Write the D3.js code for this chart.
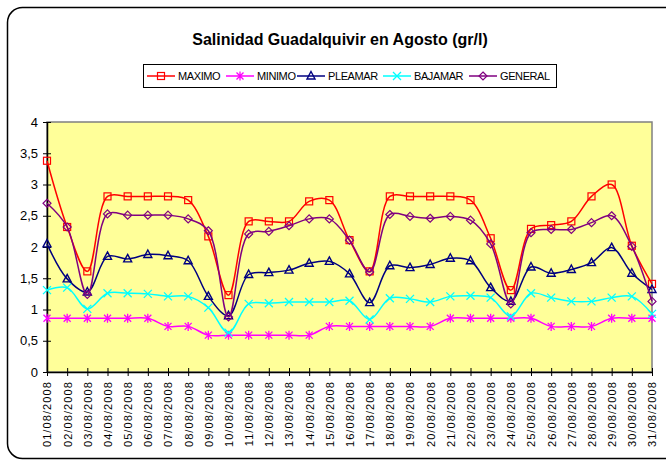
<!DOCTYPE html>
<html>
<head>
<meta charset="utf-8">
<script src="https://cdn.jsdelivr.net/npm/d3@7"></script>
<style>
  body { margin: 0; background: #fff; }
  text { font-family: "Liberation Sans", Arial, sans-serif; }
</style>
</head>
<body>
<script>
//data
var days = ["01/08/2008","02/08/2008","03/08/2008","04/08/2008","05/08/2008","06/08/2008","07/08/2008","08/08/2008","09/08/2008","10/08/2008",
  "11/08/2008","12/08/2008","13/08/2008","14/08/2008","15/08/2008","16/08/2008","17/08/2008","18/08/2008","19/08/2008","20/08/2008",
  "21/08/2008","22/08/2008","23/08/2008","24/08/2008","25/08/2008","26/08/2008","27/08/2008","28/08/2008","29/08/2008","30/08/2008","31/08/2008"];
var maximo  = [3.38,2.32,1.61,2.81,2.81,2.81,2.81,2.75,2.17,1.23,2.41,2.41,2.41,2.73,2.75,2.11,1.61,2.81,2.81,2.81,2.81,2.75,2.14,1.31,2.29,2.35,2.41,2.81,3.00,2.02,1.41];
var minimo  = [0.86,0.86,0.86,0.86,0.86,0.86,0.73,0.73,0.59,0.59,0.59,0.59,0.59,0.59,0.73,0.73,0.73,0.73,0.73,0.73,0.86,0.86,0.86,0.86,0.86,0.73,0.73,0.73,0.86,0.86,0.86];
var pleamar = [2.05,1.49,1.28,1.85,1.81,1.88,1.86,1.78,1.21,0.90,1.56,1.59,1.63,1.74,1.77,1.57,1.11,1.70,1.67,1.72,1.82,1.78,1.35,1.13,1.68,1.58,1.64,1.75,1.99,1.58,1.32];
var bajamar = [1.31,1.35,1.01,1.26,1.26,1.25,1.21,1.21,1.03,0.63,1.09,1.10,1.12,1.12,1.12,1.14,0.84,1.18,1.17,1.12,1.21,1.22,1.19,0.89,1.26,1.19,1.13,1.13,1.19,1.21,0.93];
var general = [2.70,2.32,1.24,2.53,2.51,2.51,2.51,2.45,2.26,0.88,2.21,2.25,2.34,2.45,2.45,2.11,1.60,2.52,2.49,2.46,2.49,2.43,2.05,1.09,2.23,2.28,2.28,2.39,2.50,2.01,1.13];
var yTicks = [0,0.5,1,1.5,2,2.5,3,3.5,4];

var series = [
  {name: "MAXIMO",  values: maximo,  color: "#ff0000", marker: "square"},
  {name: "MINIMO",  values: minimo,  color: "#ff00ff", marker: "star"},
  {name: "PLEAMAR", values: pleamar, color: "#000080", marker: "triangle"},
  {name: "BAJAMAR", values: bajamar, color: "#00ffff", marker: "cross"},
  {name: "GENERAL", values: general, color: "#800080", marker: "diamond"}
];

var width = 666, height = 461;
var plotLeft = 47, plotRight = 652, plotTop = 122, plotBottom = 372;

var svg = d3.select("body").append("svg")
  .attr("width", width)
  .attr("height", height);

//outer frame
svg.append("rect")
  .attr("x", 7.5).attr("y", 7.5)
  .attr("width", 672).attr("height", 451)
  .attr("rx", 15)
  .attr("fill", "#fff")
  .attr("stroke", "#000")
  .attr("stroke-width", 1.5);

svg.append("text")
  .attr("x", 340).attr("y", 45)
  .attr("text-anchor", "middle")
  .attr("font-size", 16)
  .attr("font-weight", "bold")
  .text("Salinidad Guadalquivir en Agosto (gr/l)");

var x = d3.scalePoint().domain(days).range([plotLeft, plotRight]);
var y = d3.scaleLinear().domain([0, 4]).range([plotBottom, plotTop]);

//plot area
svg.append("rect")
  .attr("x", plotLeft).attr("y", plotTop)
  .attr("width", plotRight - plotLeft).attr("height", plotBottom - plotTop)
  .attr("fill", "#ffff99")
  .attr("stroke", "#808080")
  .attr("stroke-width", 1.5);

//axes
var yAxis = svg.append("g")
  .attr("transform", "translate(" + plotLeft + ",0)")
  .call(d3.axisLeft(y).tickValues(yTicks).tickSize(0).tickPadding(9)
    .tickFormat(function(d) { return String(d).replace(".", ","); }));
yAxis.select(".domain").attr("stroke", "#000").attr("stroke-width", 1.5);
yAxis.selectAll("text").attr("font-size", 13).attr("fill", "#000");
yAxis.selectAll(".tick").append("line")
  .attr("x1", -4).attr("x2", 4).attr("stroke", "#000");

var xAxis = svg.append("g")
  .attr("transform", "translate(0," + plotBottom + ")")
  .call(d3.axisBottom(x).tickSize(0));
xAxis.select(".domain").attr("stroke", "#000").attr("stroke-width", 1.5);
xAxis.selectAll(".tick").append("line")
  .attr("y1", -4).attr("y2", 4).attr("stroke", "#000");
xAxis.selectAll("text")
  .attr("font-size", 11)
  .attr("letter-spacing", 1.1)
  .attr("fill", "#000")
  .attr("text-anchor", "end")
  .attr("transform", "rotate(-90)")
  .attr("x", -9).attr("y", 0).attr("dy", "0.35em");

//marker shapes
function drawMarker(g, type, color) {
  var s = 3.5;
  if (type === "square") {
    g.append("rect").attr("x", -s).attr("y", -s).attr("width", 2*s).attr("height", 2*s)
      .attr("fill", "none").attr("stroke", color).attr("stroke-width", 1.2);
  } else if (type === "triangle") {
    g.append("path").attr("d", "M0,-4.5L4,3L-4,3Z")
      .attr("fill", "none").attr("stroke", color).attr("stroke-width", 1.4);
  } else if (type === "diamond") {
    g.append("path").attr("d", "M0,-4L4,0L0,4L-4,0Z")
      .attr("fill", "none").attr("stroke", color).attr("stroke-width", 1.2);
  } else if (type === "cross") {
    g.append("path").attr("d", "M-4,-4L4,4M-4,4L4,-4")
      .attr("stroke", color).attr("stroke-width", 1.3);
  } else {
    g.append("path").attr("d", "M-3.5,-3.5L3.5,3.5M-3.5,3.5L3.5,-3.5M0,-4.5L0,4.5")
      .attr("stroke", color).attr("stroke-width", 1.3);
  }
}

var line = d3.line()
  .x(function(d, i) { return x(days[i]); })
  .y(function(d) { return y(d); })
  .curve(d3.curveCatmullRom.alpha(0.5));

series.forEach(function(s) {
  svg.append("path")
    .datum(s.values)
    .attr("d", line)
    .attr("fill", "none")
    .attr("stroke", s.color)
    .attr("stroke-width", 1.5);
  svg.selectAll(null)
    .data(s.values)
    .enter().append("g")
    .attr("transform", function(d, i) { return "translate(" + x(days[i]) + "," + y(d) + ")"; })
    .each(function() { drawMarker(d3.select(this), s.marker, s.color); });
});

//legend
var legend = svg.append("g");
legend.append("rect")
  .attr("x", 143.5).attr("y", 64.5)
  .attr("width", 413).attr("height", 23)
  .attr("fill", "#fff")
  .attr("stroke", "#000");
var legendX = [147, 226, 297, 383, 469];
series.forEach(function(s, i) {
  var g = legend.append("g").attr("transform", "translate(" + legendX[i] + ",76)");
  g.append("line").attr("x1", 0).attr("x2", 28)
    .attr("stroke", s.color).attr("stroke-width", 1.5);
  var m = g.append("g").attr("transform", "translate(14,0)");
  drawMarker(m, s.marker, s.color);
  g.append("text")
    .attr("x", 31).attr("y", 4)
    .attr("font-size", 11)
    .attr("letter-spacing", -0.4)
    .text(s.name);
});
</script>
</body>
</html>
